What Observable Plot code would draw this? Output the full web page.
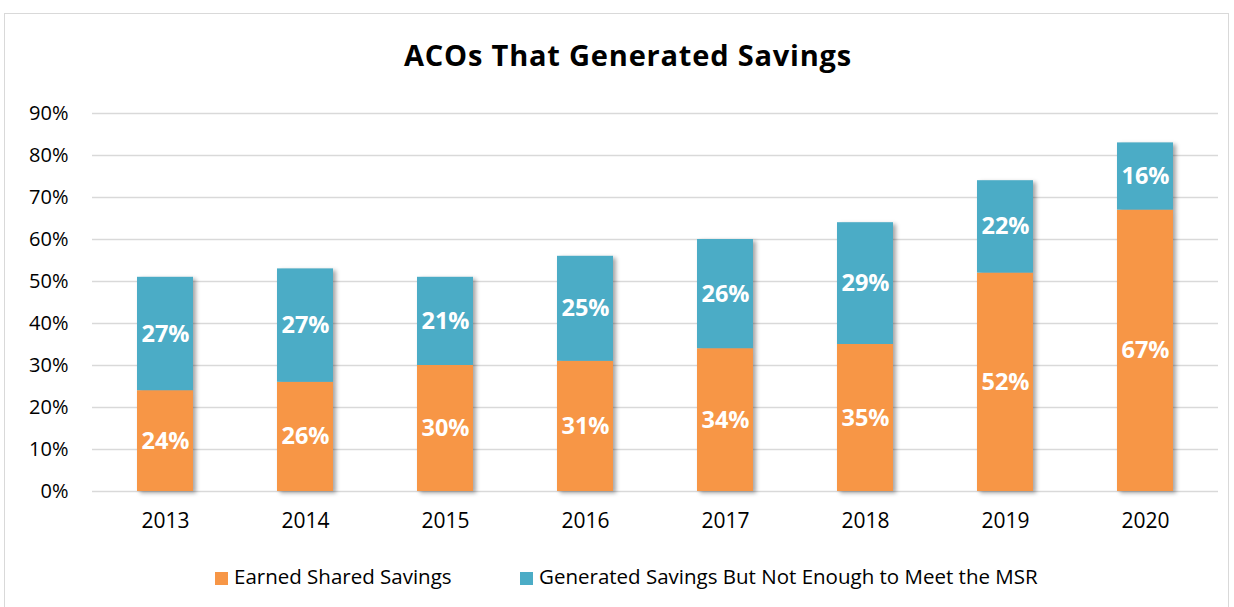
<!DOCTYPE html>
<html>
<head>
<meta charset="utf-8">
<script src="https://cdn.jsdelivr.net/npm/d3@7"></script>
<script src="https://cdn.jsdelivr.net/npm/@observablehq/plot@0.6"></script>
<style>
  html, body { margin: 0; padding: 0; background: #fff; width: 1234px; height: 607px; overflow: hidden; font-family: "Open Sans", sans-serif; }
  #frame { position: absolute; left: 4px; top: 13px; width: 1225px; height: 610px; border: 1px solid #d9d9d9; box-sizing: border-box; }
  #title { position: absolute; left: 11px; width: 1234px; top: 33px; text-align: center; font-weight: 700; font-size: 29px; letter-spacing: 0.8px; color: #000; line-height: 44px; }
  #chart { position: absolute; left: 0; top: 90px; }
  #chart svg { overflow: visible; }
  #chart g[aria-label="bar"] { filter: drop-shadow(3px 2px 2px rgba(0,0,0,0.35)); }
  #legend { position: absolute; top: 563px; left: 0; height: 26px; font-size: 20.5px; color: #000; }
  .item { position: absolute; top: 0; white-space: nowrap; line-height: 26px; }
  .sw { display: inline-block; width: 13px; height: 13px; margin-right: 6px; vertical-align: -1px; }
</style>
</head>
<body>
<div id="frame"></div>
<div id="title">ACOs That Generated Savings</div>
<div id="chart"></div>
<div id="legend"></div>
<script>
const years = ["2013", "2014", "2015", "2016", "2017", "2018", "2019", "2020"];
const seriesNames = ["Earned Shared Savings", "Generated Savings But Not Enough to Meet the MSR"];
const earned = [24, 26, 30, 31, 34, 35, 52, 67];
const notEnough = [27, 27, 21, 25, 26, 29, 22, 16];
const colors = ["#F79646", "#4BACC6"];
const yTicks = [0, 10, 20, 30, 40, 50, 60, 70, 80, 90];

const data = [];
years.forEach((y, i) => {
  data.push({year: y, series: seriesNames[0], value: earned[i]});
  data.push({year: y, series: seriesNames[1], value: notEnough[i]});
});

const plot = Plot.plot({
  width: 1234,
  height: 461,
  marginTop: 23,
  marginBottom: 60,
  marginLeft: 92,
  marginRight: 16,
  style: {fontFamily: "Open Sans", fontSize: "20px", color: "#000", background: "transparent"},
  x: {domain: years, paddingInner: 0.6, paddingOuter: 0.3, label: null, tickSize: 0, tickPadding: 23},
  y: {domain: [0, 90], ticks: yTicks, tickFormat: d => d + "%", label: null, tickSize: 0, tickPadding: 24},
  color: {domain: seriesNames, range: colors},
  marks: [
    Plot.ruleY(yTicks, {stroke: "#d9d9d9", strokeWidth: 1.5}),
    Plot.barY(data, {x: "year", y: "value", fill: "series", order: seriesNames}),
    Plot.text(data, Plot.stackY({x: "year", y: "value", z: "series", order: seriesNames,
      text: d => d.value + "%", fill: "white", fontWeight: "bold", fontSize: 23.5})),
    Plot.axisX({tickSize: 0, tickPadding: 22, fontSize: 21}),
    Plot.axisY({ticks: yTicks, tickFormat: d => d + "%", tickSize: 0, tickPadding: 24, fontSize: 20})
  ]
});
document.getElementById("chart").appendChild(plot);

const legend = document.getElementById("legend");
const lefts = [215, 520];
seriesNames.forEach((name, i) => {
  const it = document.createElement("div");
  it.className = "item";
  it.style.left = lefts[i] + "px";
  it.innerHTML = `<span class="sw" style="background:${colors[i]}"></span>${name}`;
  legend.appendChild(it);
});
</script>
</body>
</html>
